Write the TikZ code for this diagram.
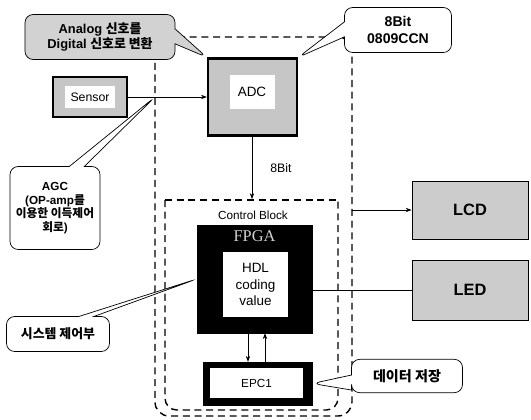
\documentclass[tikz,border=0pt]{standalone}
\usepackage{fontspec}
\setmainfont{Liberation Sans}
\newfontfamily\krfont{Noto Sans CJK KR}
\newfontfamily\fpgafont{Liberation Serif}
\usetikzlibrary{positioning, calc, arrows.meta, shapes.callouts}

\begin{document}
\begin{tikzpicture}[x=0.03cm, y=-0.03cm,
  unit/.style={draw, line width=2pt, fill=gray!45, inner sep=0pt},
  core/.style={fill=white, inner sep=0pt, align=center},
  chip/.style={draw, fill=black, inner sep=0pt},
  panel/.style={draw, line width=0.8pt, fill=gray!40, minimum width=3.48cm,
    font=\fontsize{14}{16}\selectfont\bfseries},
  bubble/.style={rectangle callout, draw, line width=0.6pt, rounded corners=7pt,
    fill=#1, align=center, inner sep=2pt, callout pointer width=0.45cm},
  arr/.style={-{Stealth[length=5pt]}, line width=0.6pt},
  fence/.style={line width=1.2pt, dash pattern=on 6pt off 4pt},
]
  \useasboundingbox (0,0) rectangle (531,419);

  % outer system border and control block
  \draw[fence, rounded corners=12pt] (155,37) rectangle (352,416);
  \draw[fence] (165,200) -- (338,200);
  \draw[fence, rounded corners=10pt] (165,200) -- (165,410) -- (338,410) -- (338,200);
  \node[font=\fontsize{10}{12}\selectfont] (ctrllabel) at (253,215) {Control Block};

  % input side
  \node[unit, minimum width=2.22cm, minimum height=1.2cm] (sensor) at (90,97) {};
  \node[core, minimum width=1.5cm, minimum height=0.65cm,
    font=\fontsize{10.5}{12}\selectfont] (sensorcore) at (sensor) {Sensor};
  \node[unit, minimum width=2.67cm, minimum height=2.31cm] (adc) at (252.5,97) {};
  \node[core, minimum width=1.35cm, minimum height=1.0cm,
    font=\fontsize{11.5}{13}\selectfont] (adccore) at (252,92) {ADC};

  % FPGA and config memory
  \node[chip, minimum width=3.45cm, minimum height=3.24cm] (fpga) at (254.5,279) {};
  \node[text=gray!35, font=\fpgafont\fontsize{14}{16}\selectfont,
    below=0.5mm of fpga.north] (fpgalabel) {FPGA};
  \node[core, minimum width=1.95cm, minimum height=1.95cm,
    font=\fontsize{11.5}{14}\selectfont] (hdl) at (255.5,284.5) {HDL\\coding\\value};
  \node[chip, minimum width=3.27cm, minimum height=1.29cm] (epc) at (257.5,383.5) {};
  \node[core, minimum width=2.79cm, minimum height=0.9cm,
    font=\fontsize{10}{12}\selectfont] (epccore) at (256.5,383) {EPC1};

  % outputs
  \node[panel, minimum height=1.74cm] (lcd) at (470,210) {LCD};
  \node[panel, minimum height=1.8cm] (led) at (470,290) {LED};

  % connectors
  \coordinate (tap) at (155,97);
  \coordinate (ctrltop) at (252,199);
  \coordinate (bus) at (352,210);
  \coordinate (dn) at (248,0);
  \coordinate (up) at (265,0);
  \draw[arr] (sensor) -- (adc);
  \draw[arr] (adc.south -| ctrltop) -- (ctrltop);
  \node[font=\fontsize{10.5}{12}\selectfont] (buswidth) at (281,168) {8Bit};
  \draw[arr] (fpga.south -| dn) -- (epc.north -| dn);
  \draw[arr] (epc.north -| up) -- (fpga.south -| up);
  \draw[arr] (bus) -- (lcd);
  \draw[line width=0.8pt] (fpga.east |- led) -- (led);

  % callouts
  \node[bubble=gray!35, minimum width=4.5cm, minimum height=1.35cm,
    font=\fontsize{11}{13}\selectfont\bfseries,
    callout absolute pointer={(adc.north west)}] (conv) at (100,37)
    {Analog {\krfont 신호를}\\Digital {\krfont 신호로 변환}};
  \node[bubble=white, minimum width=3.21cm, minimum height=1.35cm,
    font=\fontsize{12}{14}\selectfont\bfseries,
    callout absolute pointer={(adc.north east)}] (chipnote) at (398,30)
    {8Bit\\0809CCN};
  \node[bubble=white, minimum width=2.7cm, minimum height=2.49cm,
    font=\fontsize{10}{11.5}\selectfont\bfseries,
    callout absolute pointer={(tap)}] (agc) at (55,208)
    {AGC\\(OP-amp{\krfont 를}\\{\krfont 이용한 이득제어}\\{\krfont 회로})};
  \node[bubble=white, minimum width=3.09cm, minimum height=1.05cm,
    font=\krfont\fontsize{11}{13}\selectfont\bfseries,
    callout absolute pointer={(fpga.west)}] (sysnote) at (58,334) {시스템 제어부};
  \node[bubble=white, minimum width=3.33cm, minimum height=1.0cm,
    font=\krfont\fontsize{12}{14}\selectfont\bfseries,
    callout absolute pointer={(epc.east)}] (datanote) at (407,376) {데이터 저장};
\end{tikzpicture}
\end{document}
